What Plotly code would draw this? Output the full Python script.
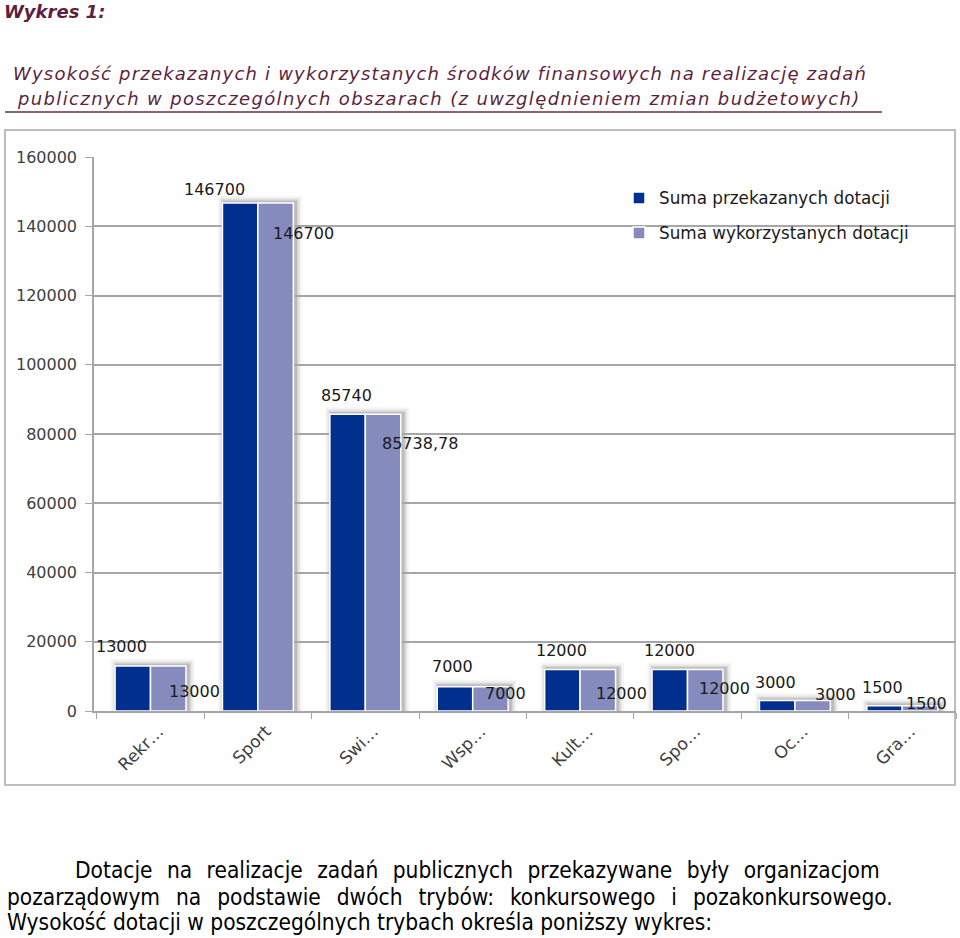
import plotly.graph_objects as go

categories = ["Rekr…", "Sport", "Swi…", "Wsp…", "Kult…", "Spo…", "Oc…", "Gra…"]
przekazane = [13000, 146700, 85740, 7000, 12000, 12000, 3000, 1500]
wykorzystane = [13000, 146700, 85738.78, 7000, 12000, 12000, 3000, 1500]
series_names = ["Suma przekazanych dotacji", "Suma wykorzystanych dotacji"]
y_ticks = [0, 20000, 40000, 60000, 80000, 100000, 120000, 140000, 160000]

# label placement (pixel shifts), style only
lab1_dx = [-29, -43, -19, -20, -19, -18, -19, -20]
lab1_dy = [19, 14, 19, 20, 19, 19, 18, 18]
lab2_dx = [16, 13, 15, 10, 14, 9, 18, 2]
lab2_dy = [-26, -30, -29, -7, -24, -19, 6, 2]

W, H = 960, 938
L, R, T, B = 94, 4, 157, 227
PW, PH = W - L - R, H - T - B
YMAX = 160000


def px(x, y):
    return (x - L) / PW, (H - B - y) / PH


def fmt(v):
    s = ("%.2f" % v).rstrip("0").rstrip(".")
    return s.replace(".", ",")


fig = go.Figure()
fig.add_trace(go.Bar(x=categories, y=przekazane, name=series_names[0], legend="legend",
                     showlegend=True,
                     marker=dict(color="#002F8E", line=dict(color="white", width=1.5))))
fig.add_trace(go.Bar(x=categories, y=wykorzystane, name=series_names[1], legend="legend2",
                     showlegend=True,
                     marker=dict(color="#858BBD", line=dict(color="white", width=1.5))))

anns = []
for i, c in enumerate(categories):
    anns.append(dict(x=c, y=przekazane[i], xref="x", yref="y", text=fmt(przekazane[i]),
                     showarrow=False, xanchor="center", yanchor="middle",
                     xshift=lab1_dx[i], yshift=lab1_dy[i],
                     font=dict(family="DejaVu Sans", size=16, color="#1a1a1a")))
    anns.append(dict(x=c, y=wykorzystane[i], xref="x", yref="y", text=fmt(wykorzystane[i]),
                     showarrow=False, xanchor="left", yanchor="middle",
                     xshift=lab2_dx[i], yshift=lab2_dy[i],
                     font=dict(family="DejaVu Sans", size=16, color="#1a1a1a")))

purple = "#5E1F3E"
x0, y0 = px(2, 11)
anns.append(dict(x=x0, y=y0, xref="paper", yref="paper", text="<b><i>Wykres 1:</i></b>",
                 showarrow=False, xanchor="left", yanchor="middle",
                 font=dict(family="DejaVu Sans", size=18, color=purple)))
x0, y0 = px(11, 73)
anns.append(dict(x=x0, y=y0, xref="paper", yref="paper",
                 text="<span style='letter-spacing:1.2px'><i>Wysokość przekazanych i wykorzystanych środków finansowych na realizację zadań</i></span>",
                 showarrow=False, xanchor="left", yanchor="middle",
                 font=dict(family="DejaVu Sans", size=18, color=purple)))
x0, y0 = px(15, 98)
anns.append(dict(x=x0, y=y0, xref="paper", yref="paper",
                 text="<span style='letter-spacing:1.36px'><i>publicznych w poszczególnych obszarach (z uwzględnieniem zmian budżetowych)</i></span>",
                 showarrow=False, xanchor="left", yanchor="middle",
                 font=dict(family="DejaVu Sans", size=18, color=purple)))

body = [
    (73, 870, "Dotacje na realizacje zadań publicznych przekazywane były organizacjom", 8),
    (5, 897, "pozarządowym na podstawie dwóch trybów: konkursowego i pozakonkursowego.", 9.5),
    (5, 922, "Wysokość dotacji w poszczególnych trybach określa poniższy wykres:", 0),
]
for bx, by, t, ws in body:
    x0, y0 = px(bx, by)
    anns.append(dict(x=x0, y=y0, xref="paper", yref="paper",
                     text="<span style='word-spacing:%.1fpx'>%s</span>" % (ws, t),
                     showarrow=False, xanchor="left", yanchor="middle",
                     font=dict(family="DejaVu Sans Condensed, DejaVu Sans", size=22.5, color="black")))

shapes = []
# soft shadow behind each bar pair (pixel-sized around data anchors)
for i in range(len(categories)):
    top = max(przekazane[i], wykorzystane[i])
    hpx = top / YMAX * PH
    for grow, op in [(6, 0.05), (4, 0.07), (2.5, 0.10), (1.2, 0.16)]:
        shapes.append(dict(type="rect", xref="x", yref="y", layer="below",
                           xsizemode="pixel", xanchor=i, ysizemode="pixel", yanchor=top,
                           x0=-36 - grow + 2, x1=36 + grow + 2, y0=-hpx, y1=grow + 1,
                           fillcolor="rgba(60,60,60,%.2f)" % op, line=dict(width=0)))
a, b = px(5, 130)
c, d = px(955, 785)
shapes.append(dict(type="rect", xref="paper", yref="paper", x0=a, y0=b, x1=c, y1=d,
                   line=dict(color="#BDBDBD", width=2), layer="below"))
a, b = px(5, 112)
c, d = px(882, 112)
shapes.append(dict(type="line", xref="paper", yref="paper", x0=a, y0=b, x1=c, y1=d,
                   line=dict(color="#6B2C4A", width=1.5)))

lx, ly1 = px(619, 198)
_, ly2 = px(619, 233)
legfont = dict(family="DejaVu Sans", size=16.8, color="#1a1a1a")
fig.update_layout(
    width=W, height=H, showlegend=True,
    margin=dict(l=L, r=R, t=T, b=B, autoexpand=False),
    paper_bgcolor="white", plot_bgcolor="white",
    barmode="group", bargap=0.34, bargroupgap=0.0,
    font=dict(family="DejaVu Sans", size=16, color="#404040"),
    legend=dict(x=lx, y=ly1, xanchor="left", yanchor="middle", bgcolor="rgba(0,0,0,0)",
                font=legfont, itemwidth=30, visible=True),
    legend2=dict(x=lx, y=ly2, xanchor="left", yanchor="middle", bgcolor="rgba(0,0,0,0)",
                 font=legfont, itemwidth=30, visible=True),
    xaxis=dict(showline=True, linecolor="#A6A6A6", linewidth=1.5, ticks="outside",
               tickson="boundaries", ticklen=6, tickcolor="#A6A6A6", tickangle=-45,
               ticklabelstandoff=2, ticklabelshift=8,
               tickfont=dict(family="DejaVu Sans", size=17, color="#404040")),
    yaxis=dict(range=[0, YMAX], tickvals=y_ticks, ticktext=[str(v) for v in y_ticks],
               showgrid=True, gridcolor="#A6A6A6",
               gridwidth=1.5, showline=True, linecolor="#A6A6A6", linewidth=1.5,
               ticks="outside", ticklen=7, tickcolor="#A6A6A6", zeroline=False,
               ticklabelstandoff=5,
               tickfont=dict(family="DejaVu Sans", size=16, color="#404040")),
    annotations=anns, shapes=shapes,
)

fig.write_html("out.html", config={"displayModeBar": False},
               post_script="document.body.style.margin='0';document.body.style.overflow='hidden';")
